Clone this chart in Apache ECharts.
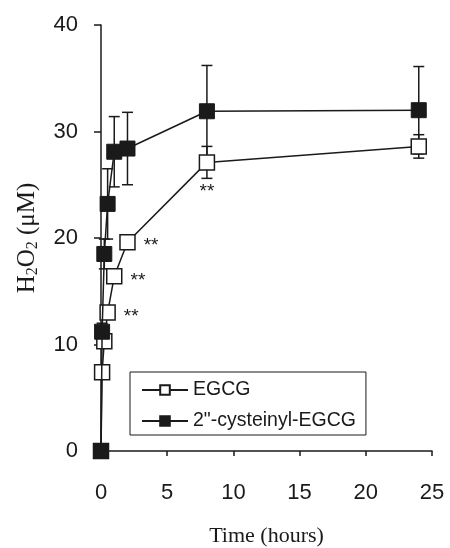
<!DOCTYPE html>
<html>
<head>
<meta charset="utf-8">
<script src="https://cdn.jsdelivr.net/npm/echarts@6/dist/echarts.min.js"></script>
<style>
html,body{margin:0;padding:0;background:#fff;}
#c{width:450px;height:548px;}
</style>
</head>
<body>
<div id="c"></div>
<script>
// ---- data ----
const times = [0, 0.083, 0.25, 0.5, 1, 2, 8, 24];
const egcgMean = [0, 7.4, 10.3, 13.0, 16.4, 19.6, 27.1, 28.6];
const egcgErr = [0, 0.5, 0.5, 0.6, 0.6, 0.6, 1.5, 1.1];
const cysMean = [0, 11.2, 18.5, 23.2, 28.1, 28.4, 31.9, 32.0];
const cysErr = [0, 0.8, 1.4, 3.3, 3.3, 3.4, 4.3, 4.1];
const egcgSig = ['', '', '', '**', '**', '**', '**', ''];
const xTicks = [0, 5, 10, 15, 20, 25];
const yTicks = [0, 10, 20, 30, 40];
const seriesNames = ['EGCG', '2"-cysteinyl-EGCG'];

const chart = echarts.init(document.getElementById('c'), null, {renderer: 'canvas'});
const ink = '#1a1a1a';
const sans = 'Liberation Sans, Arial, sans-serif';
const serif = 'Liberation Serif, Times New Roman, serif';

function pairs(ts, vs, es) { return ts.map((t, i) => [t, vs[i], es[i]]); }

function errRender(params, api) {
  const x = api.value(0), y = api.value(1), e = api.value(2);
  if (!e) return null;
  const top = api.coord([x, y + e]);
  const bot = api.coord([x, y - e]);
  const hw = 5.5;
  const st = {stroke: ink, lineWidth: 1.5};
  return {
    type: 'group',
    children: [
      {type: 'line', shape: {x1: top[0], y1: top[1], x2: bot[0], y2: bot[1]}, style: st},
      {type: 'line', shape: {x1: top[0] - hw, y1: top[1], x2: top[0] + hw, y2: top[1]}, style: st},
      {type: 'line', shape: {x1: bot[0] - hw, y1: bot[1], x2: bot[0] + hw, y2: bot[1]}, style: st}
    ]
  };
}

const egcgData = times.map((t, i) => {
  const item = {value: [t, egcgMean[i]]};
  if (egcgSig[i]) {
    const below = t >= 8;
    item.label = {
      show: true,
      formatter: egcgSig[i],
      position: below ? 'bottom' : 'right',
      distance: 8,
      offset: [0, 4],
      fontSize: 19,
      fontFamily: sans,
      color: ink
    };
  }
  return item;
});

chart.setOption({
  animation: false,
  backgroundColor: '#fff',
  grid: {left: 101, right: 18, top: 25, bottom: 97, containLabel: false, outerBoundsMode: 'none'},
  legend: {
    orient: 'vertical',
    left: 130,
    top: 372,
    data: seriesNames,
    itemWidth: 46,
    itemHeight: 12,
    itemGap: 11,
    padding: [8, 10, 4, 11],
    borderColor: ink,
    borderWidth: 1,
    textStyle: {fontSize: 19.5, fontFamily: sans, color: ink}
  },
  xAxis: {
    type: 'value',
    min: xTicks[0],
    max: xTicks[xTicks.length - 1],
    interval: xTicks[1] - xTicks[0],
    name: 'Time (hours)',
    nameLocation: 'middle',
    nameGap: 74,
    nameTextStyle: {fontSize: 22, fontFamily: serif, color: ink},
    axisLine: {show: true, onZero: false, lineStyle: {color: ink, width: 1.5}},
    axisTick: {show: true, inside: false, length: 5, lineStyle: {color: ink, width: 1.5}},
    axisLabel: {fontSize: 22, margin: 31, color: ink, fontFamily: sans},
    splitLine: {show: false}
  },
  yAxis: {
    type: 'value',
    min: yTicks[0],
    max: yTicks[yTicks.length - 1],
    interval: yTicks[1] - yTicks[0],
    name: '{a|H}{s|2}{a|O}{s|2}{a| (μM)}',
    nameLocation: 'middle',
    nameRotate: 90,
    nameGap: 60,
    nameTextStyle: {
      fontFamily: serif,
      color: ink,
      rich: {
        a: {fontSize: 25, fontFamily: serif, color: ink},
        s: {fontSize: 16, fontFamily: serif, color: ink, padding: [11, 0, 0, 0]}
      }
    },
    axisLine: {show: true, lineStyle: {color: ink, width: 1.5}},
    axisTick: {show: true, inside: false, length: 7, lineStyle: {color: ink, width: 1.5}},
    axisLabel: {fontSize: 22, margin: 23, color: ink, fontFamily: sans},
    splitLine: {show: false}
  },
  series: [
    {
      type: 'custom',
      name: 'errEGCG',
      renderItem: errRender,
      data: pairs(times, egcgMean, egcgErr),
      z: 1,
      silent: true,
      clip: false
    },
    {
      type: 'custom',
      name: 'errCys',
      renderItem: errRender,
      data: pairs(times, cysMean, cysErr),
      z: 1,
      silent: true,
      clip: false
    },
    {
      type: 'line',
      name: seriesNames[0],
      data: egcgData,
      symbol: 'rect',
      symbolSize: 15,
      showAllSymbol: true,
      clip: false,
      z: 3,
      lineStyle: {color: ink, width: 1.5},
      itemStyle: {color: '#ffffff', borderColor: ink, borderWidth: 1.5}
    },
    {
      type: 'line',
      name: seriesNames[1],
      data: times.map((t, i) => [t, cysMean[i]]),
      symbol: 'rect',
      symbolSize: 15,
      showAllSymbol: true,
      clip: false,
      z: 4,
      lineStyle: {color: ink, width: 1.5},
      itemStyle: {color: ink, borderColor: ink, borderWidth: 1}
    }
  ]
});
</script>
</body>
</html>
